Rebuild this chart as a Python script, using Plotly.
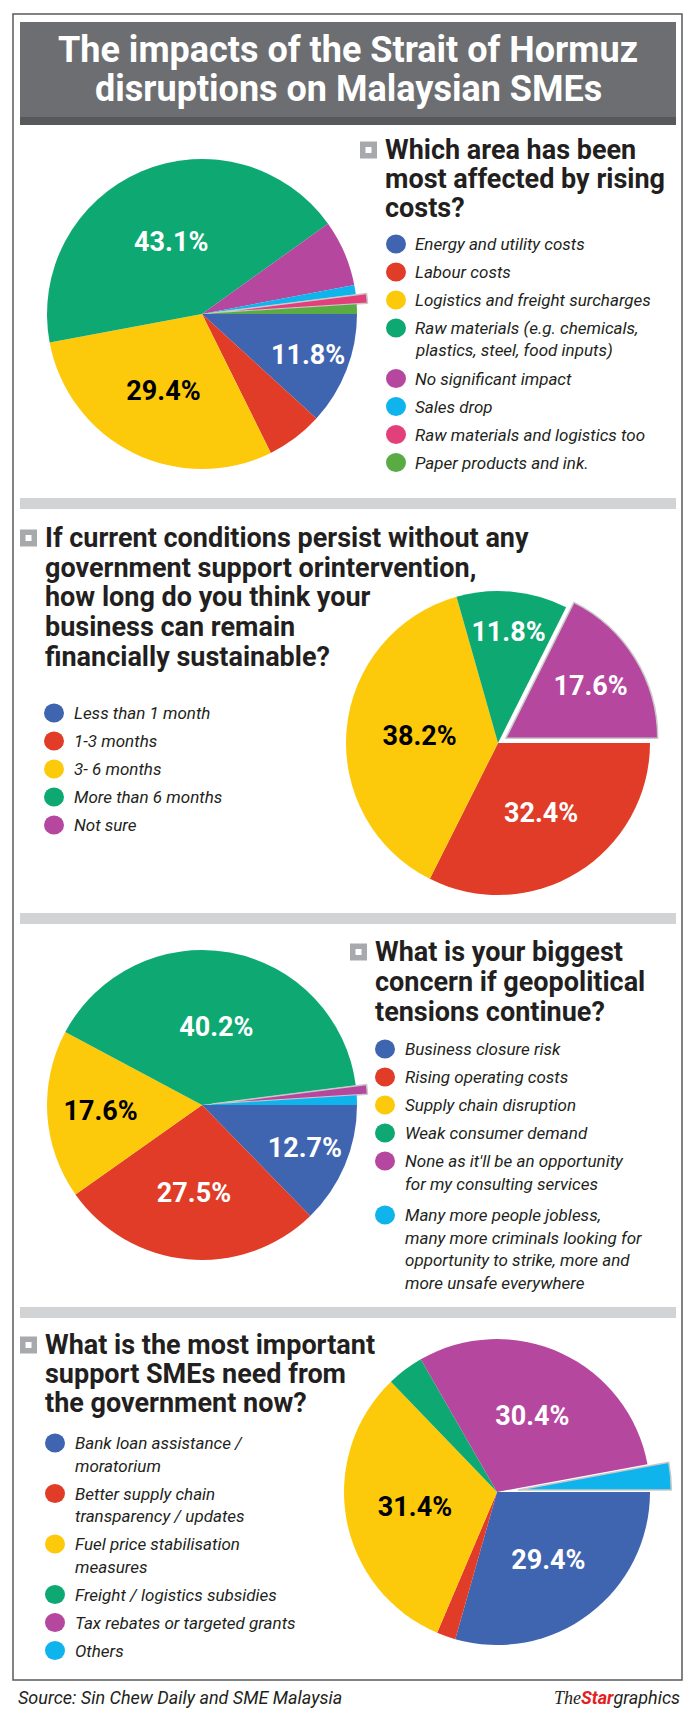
import plotly.graph_objects as go

W, H = 688, 1713
FONT = "Roboto, 'Noto Sans', 'DejaVu Sans', sans-serif"
INK = "#231f20"

BLUE, RED, YELLOW, GREEN = "#3f65b0", "#e03c27", "#fdca0b", "#0ea972"
PURPLE, CYAN, PINK, LGREEN = "#b5479f", "#0fb4ec", "#e2407a", "#5bab45"

# ---------------- data ----------------
title_lines = ["The impacts of the Strait of Hormuz", "disruptions on Malaysian SMEs"]

q1_lines = ["Which area has been", "most affected by rising", "costs?"]
q1_labels = ["Energy and utility costs", "Labour costs", "Logistics and freight surcharges",
             "Raw materials (e.g. chemicals,<br>plastics, steel, food inputs)",
             "No significant impact", "Sales drop", "Raw materials and logistics too",
             "Paper products and ink."]
q1_values = [11.8, 5.9, 29.4, 43.1, 6.9, 1.0, 1.0, 1.0]
q1_colors = [BLUE, RED, YELLOW, GREEN, PURPLE, CYAN, PINK, LGREEN]
q1_pull = [0, 0, 0, 0, 0, 0, 0.07, 0]

q2_lines = ["If current conditions persist without any", "government support orintervention,",
            "how long do you think your", "business can remain", "financially sustainable?"]
q2_labels = ["Less than 1 month", "1-3 months", "3- 6 months", "More than 6 months", "Not sure"]
q2_values = [0.0, 32.4, 38.2, 11.8, 17.6]
q2_colors = [BLUE, RED, YELLOW, GREEN, PURPLE]
q2_pull = [0, 0, 0, 0, 0.06]

q3_lines = ["What is your biggest", "concern if geopolitical", "tensions continue?"]
q3_labels = ["Business closure risk", "Rising operating costs", "Supply chain disruption",
             "Weak consumer demand",
             "None as it'll be an opportunity<br>for my consulting services",
             "Many more people jobless,<br>many more criminals looking for<br>"
             "opportunity to strike, more and<br>more unsafe everywhere"]
q3_values = [12.7, 27.5, 17.6, 40.2, 1.0, 1.0]
q3_colors = [BLUE, RED, YELLOW, GREEN, PURPLE, CYAN]
q3_pull = [0, 0, 0, 0, 0.07, 0]

q4_lines = ["What is the most important", "support SMEs need from", "the government now?"]
q4_labels = ["Bank loan assistance /<br>moratorium", "Better supply chain<br>transparency / updates",
             "Fuel price stabilisation<br>measures", "Freight / logistics subsidies",
             "Tax rebates or targeted grants", "Others"]
q4_values = [29.4, 2.0, 31.4, 3.9, 30.4, 2.9]
q4_colors = [BLUE, RED, YELLOW, GREEN, PURPLE, CYAN]
q4_pull = [0, 0, 0, 0, 0, 0.14]

source_text = "Source: Sin Chew Daily and SME Malaysia"
LABEL_MIN = 10.0

# ---------------- layout (pixels) ----------------
sections = [
    dict(lines=q1_lines, labels=q1_labels, values=q1_values, colors=q1_colors, pull=q1_pull,
         cx=202, cy=314, r=155, qx=384, qy=150, qstep=29, lx=396, ltx=414, ly=244, gap=0),
    dict(lines=q2_lines, labels=q2_labels, values=q2_values, colors=q2_colors, pull=q2_pull,
         cx=498, cy=743, r=152, qx=44, qy=538, qstep=29.7, lx=54, ltx=73, ly=713, gap=0),
    dict(lines=q3_lines, labels=q3_labels, values=q3_values, colors=q3_colors, pull=q3_pull,
         cx=202, cy=1105, r=155, qx=374, qy=952, qstep=30, lx=385, ltx=404, ly=1049, gap=3.5),
    dict(lines=q4_lines, labels=q4_labels, values=q4_values, colors=q4_colors, pull=q4_pull,
         cx=497, cy=1492, r=153, qx=44, qy=1345, qstep=29, lx=55, ltx=74, ly=1443, gap=0),
]
dividers = [498, 913, 1307]
ROW, LINE = 28, 22.5


def px(x):
    return x / W


def py(y):
    return 1 - y / H


shapes, annotations = [], []


def rect(x0, y0, x1, y1, fill, line=None, lw=0):
    shapes.append(dict(type="rect", xref="paper", yref="paper",
                       x0=px(x0), x1=px(x1), y0=py(y1), y1=py(y0),
                       fillcolor=fill, line=dict(color=line or fill, width=lw), layer="below"))


def text(x, y, s, size, color=INK, bold=False, italic=False, xanchor="left"):
    annotations.append(dict(xref="paper", yref="paper", x=px(x), y=py(y), text=s,
                            showarrow=False, xanchor=xanchor, yanchor="middle",
                            font=dict(family=FONT, size=size, color=color,
                                      weight=700 if bold else 400,
                                      style="italic" if italic else "normal")))


fig = go.Figure()

# frame, title box, dividers
shapes.append(dict(type="rect", xref="paper", yref="paper", x0=px(13), x1=px(682),
                   y0=py(1680), y1=py(14), line=dict(color="#58595b", width=1.5),
                   fillcolor="rgba(0,0,0,0)", layer="below"))
rect(20, 22, 676, 125, "#6d6e71")
rect(20, 117, 676, 125, "#58595b")
for i, ln in enumerate(title_lines):
    text(348, 49.5 + i * 40, ln, 36, color="white", bold=True, xanchor="center")
for d in dividers:
    rect(20, d, 676, d + 11, "#d1d3d4")

for s in sections:
    # pie
    R = s["r"] * (1 + max(s["pull"]))
    cx, cy = s["cx"], s["cy"]
    labels_plain = [l.replace("<br>", " ") for l in s["labels"]]
    txt = [f"{v:.1f}%" if v >= LABEL_MIN else "" for v in s["values"]]
    tcol = ["#000000" if c == YELLOW else "#ffffff" for c in s["colors"]]
    lw = [1.5 if p > 0 else 0 for p in s["pull"]]
    fig.add_trace(go.Pie(
        labels=labels_plain, values=s["values"], sort=False, direction="clockwise", rotation=90,
        pull=s["pull"], text=txt, textinfo="text", textposition="inside",
        insidetextorientation="horizontal",
        insidetextfont=dict(family=FONT, size=27, color=tcol, weight=700),
        marker=dict(colors=s["colors"], line=dict(color="#c9c9c9", width=lw)),
        domain=dict(x=[px(cx - R), px(cx + R)], y=[py(cy + R), py(cy - R)]),
        hoverinfo="skip", showlegend=False))

    # question
    qx, qy = s["qx"], s["qy"]
    rect(qx - 24, qy - 8.5, qx - 7, qy + 8.5, "#a7a9ac")
    rect(qx - 18.5, qy - 3, qx - 12.5, qy + 3, "#ffffff")
    for i, ln in enumerate(s["lines"]):
        text(qx - 1, qy + i * s["qstep"], ln, 27, bold=True)

    # legend
    y = s["ly"]
    for lab, col in zip(s["labels"], s["colors"]):
        shapes.append(dict(type="circle", xref="paper", yref="paper",
                           x0=px(s["lx"] - 10), x1=px(s["lx"] + 10),
                           y0=py(y + 9.5), y1=py(y - 9.5),
                           fillcolor=col, line=dict(width=0)))
        parts = lab.split("<br>")
        for k, p in enumerate(parts):
            text(s["ltx"] - 1, y + k * LINE, p, 17, italic=True)
        y += ROW + (len(parts) - 1) * (LINE + s["gap"])

# footer
text(16, 1697, source_text, 18, italic=True)
text(682, 1697,
     "<span style='font-family:Liberation Serif'>The</span>"
     "<b><span style='color:#e31e24'>Star</span></b>graphics",
     18, italic=True, xanchor="right")

fig.update_layout(width=W, height=H, margin=dict(l=0, r=0, t=0, b=0),
                  paper_bgcolor="white", plot_bgcolor="white",
                  shapes=shapes, annotations=annotations, showlegend=False)
fig.write_html("out.html")
